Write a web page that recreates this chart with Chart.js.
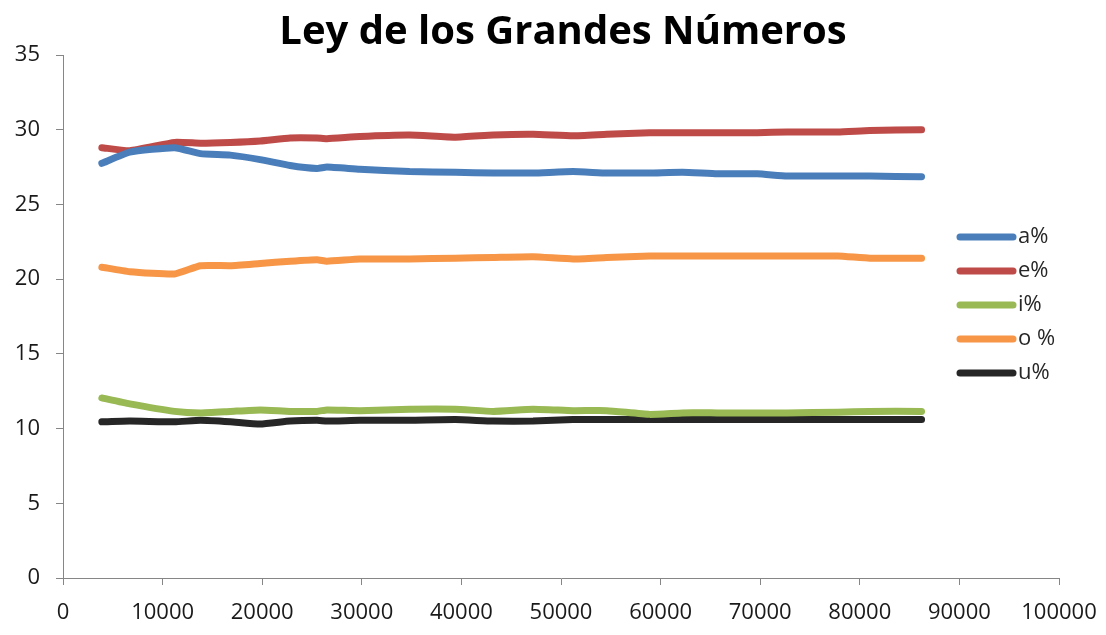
<!DOCTYPE html>
<html>
<head>
<meta charset="utf-8">
<script src="https://cdn.jsdelivr.net/npm/chart.js@4.4.1/dist/chart.umd.min.js"></script>
<style>
  html, body { margin: 0; padding: 0; background: #fff; }
  #wrap { width: 1106px; height: 635px; }
</style>
</head>
<body>
<div id="wrap"><canvas id="chart" width="1106" height="635"></canvas></div>
<script>
// sample sizes (x) and vowel percentages
const xs = [3900, 6700, 11200, 13800, 16800, 19800, 22800, 25500, 26500, 29800, 34800, 39400,
            43200, 47200, 51200, 54600, 58900, 62200, 65700, 69700, 72700, 77800, 81000, 86200];
const aPct = [27.75, 28.5, 28.8, 28.4, 28.3, 28.0, 27.6, 27.4, 27.5, 27.35, 27.2, 27.15,
              27.1, 27.1, 27.2, 27.1, 27.1, 27.15, 27.05, 27.05, 26.9, 26.9, 26.9, 26.85];
const ePct = [28.8, 28.6, 29.15, 29.1, 29.15, 29.25, 29.45, 29.45, 29.4, 29.55, 29.65, 29.5,
              29.65, 29.7, 29.6, 29.7, 29.8, 29.8, 29.8, 29.8, 29.85, 29.85, 29.95, 30.0];
const iPct = [12.05, 11.65, 11.15, 11.05, 11.15, 11.25, 11.15, 11.15, 11.25, 11.2, 11.3, 11.3,
              11.15, 11.3, 11.2, 11.2, 10.95, 11.05, 11.05, 11.05, 11.05, 11.1, 11.15, 11.15];
const oPct = [20.8, 20.5, 20.35, 20.9, 20.9, 21.05, 21.2, 21.3, 21.2, 21.35, 21.35, 21.4,
              21.45, 21.5, 21.35, 21.45, 21.55, 21.55, 21.55, 21.55, 21.55, 21.55, 21.4, 21.4];
const uPct = [10.45, 10.5, 10.45, 10.55, 10.45, 10.3, 10.5, 10.55, 10.5, 10.55, 10.55, 10.6,
              10.5, 10.5, 10.6, 10.6, 10.6, 10.6, 10.6, 10.6, 10.6, 10.6, 10.6, 10.6];
const seriesLabels = ["a%", "e%", "i%", "o %", "u%"];
const chartTitle = "Ley de los Grandes Números";

const FONT = "'Open Sans', 'DejaVu Sans', sans-serif";
const colors = ["#4A7EBB", "#BE4B48", "#98B954", "#F79646", "#262626"];
const values = [aPct, ePct, iPct, oPct, uPct];

function toPoints(ys) {
    return xs.map((x, i) => ({ x: x, y: ys[i] }));
}

// title + legend drawn by hand: title is centred on the whole picture and
// the legend sits over the right end of the plot, like the original
const overlay = {
    id: "overlay",
    afterDraw(chart) {
        const ctx = chart.ctx;
        ctx.save();
        ctx.font = "bold 40px " + FONT;
        ctx.fillStyle = "#000";
        ctx.textAlign = "center";
        ctx.textBaseline = "alphabetic";
        ctx.fillText(chartTitle, 563, 44);

        const x0 = 960, x1 = 1013, top = 237, step = 34;
        ctx.font = "22px " + FONT;
        ctx.textAlign = "left";
        ctx.textBaseline = "middle";
        chart.data.datasets.forEach((ds, i) => {
            const y = top + i * step;
            ctx.strokeStyle = ds.borderColor;
            ctx.lineWidth = 7;
            ctx.lineCap = "round";
            ctx.beginPath();
            ctx.moveTo(x0, y);
            ctx.lineTo(x1, y);
            ctx.stroke();
            ctx.fillStyle = "#262626";
            ctx.fillText(ds.label, 1018, y);
        });
        ctx.restore();
    }
};

new Chart(document.getElementById("chart").getContext("2d"), {
    type: "line",
    data: {
        datasets: values.map((ys, i) => ({
            label: seriesLabels[i],
            data: toPoints(ys),
            borderColor: colors[i],
            backgroundColor: colors[i],
            borderWidth: 7,
            borderCapStyle: "round",
            borderJoinStyle: "round",
            pointRadius: 0,
            tension: 0.15,
            fill: false
        }))
    },
    options: {
        responsive: false,
        animation: false,
        layout: { padding: { top: 55, right: 47, bottom: 0, left: 0 } },
        plugins: {
            legend: { display: false },
            tooltip: { enabled: false },
            title: { display: false }
        },
        scales: {
            x: {
                type: "linear",
                min: 0, max: 100000,
                ticks: {
                    stepSize: 10000, color: "#1a1a1a", font: { family: FONT, size: 22 }, padding: 15,
                    maxRotation: 0, autoSkip: false,
                    callback: v => String(v)
                },
                grid: { display: true, drawOnChartArea: false, drawTicks: true, tickLength: 7, color: "#868686" },
                border: { color: "#868686", width: 1 },
                afterFit(scale) {
                    scale.height = 57;
                    scale.paddingLeft = 0;
                    scale.paddingRight = 0;
                }
            },
            y: {
                min: 0, max: 35,
                ticks: { stepSize: 5, color: "#1a1a1a", font: { family: FONT, size: 22 }, padding: 16 },
                grid: { display: true, drawOnChartArea: false, drawTicks: true, tickLength: 7, color: "#868686" },
                border: { color: "#868686", width: 1 },
                afterFit(scale) {
                    scale.width = 63;
                    scale.paddingTop = 0;
                    scale.paddingBottom = 0;
                }
            }
        }
    },
    plugins: [overlay]
});
</script>
</body>
</html>
